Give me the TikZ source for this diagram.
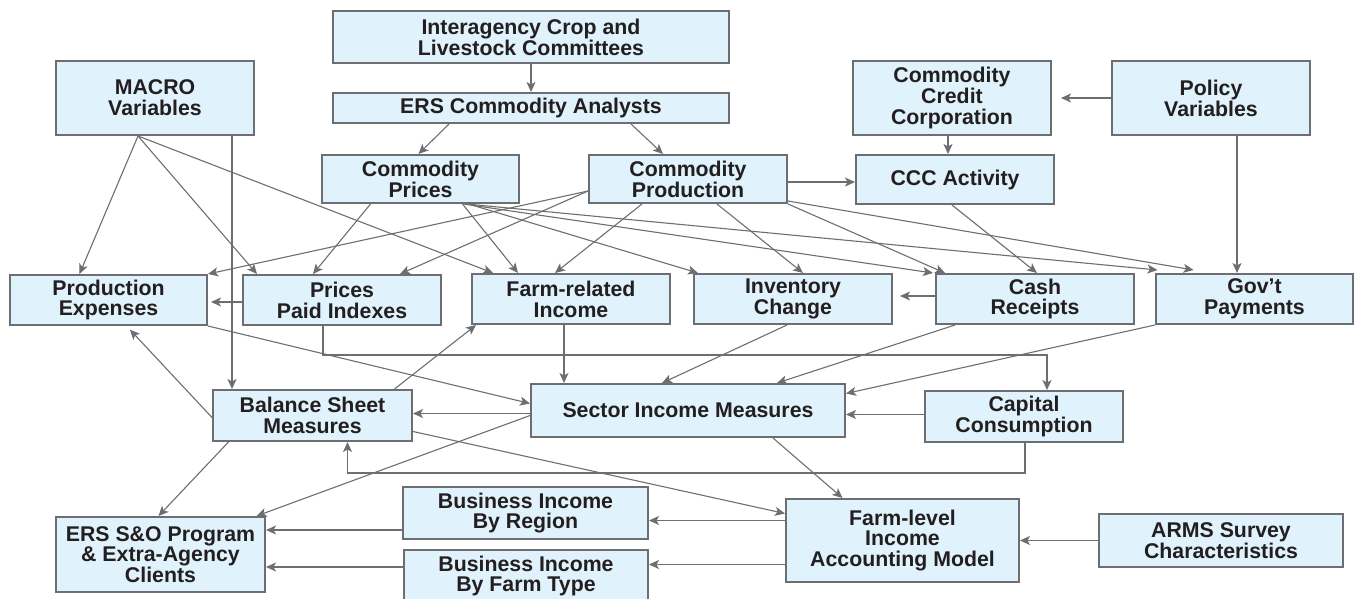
\documentclass[tikz,border=0pt]{standalone}
\usepackage{fontspec}
\setmainfont{Liberation Sans}
\usetikzlibrary{arrows.meta}

\definecolor{boxblue}{RGB}{224,242,251}
\definecolor{linegray}{RGB}{109,110,113}
\definecolor{textdark}{RGB}{35,31,32}

\begin{document}
\begin{tikzpicture}[x=1pt, y=-1pt,
        >={Stealth[length=10pt, width=9pt, inset=2.5pt]},
        box/.style={draw=linegray, fill=boxblue, line width=2pt, align=center, inner sep=0pt,
            text=textdark, font=\bfseries\fontsize{21.3}{20.8}\selectfont},
        arr/.style={->, draw=linegray, line width=1.1pt}]
        \useasboundingbox (0,0) rectangle (1358,598);

        % Top sources
        \node[box, minimum width=396pt, minimum height=52pt] (inter) at (531,37) {Interagency Crop and\\Livestock Committees};
        \node[box, minimum width=396pt, minimum height=30pt] (analysts) at (531,108) {ERS Commodity Analysts};
        \node[box, minimum width=198pt, minimum height=74pt] (macro) at (155,98) {MACRO\\Variables};
        \node[box, minimum width=198pt, minimum height=74pt] (ccc) at (952,98) {Commodity\\Credit\\Corporation};
        \node[box, minimum width=198pt, minimum height=74pt] (policy) at (1211,98) {Policy\\Variables};

        % Commodity row
        \node[box, minimum width=197pt, minimum height=48pt] (cprice) at (420.5,179) {Commodity\\Prices};
        \node[box, minimum width=198pt, minimum height=48pt] (cprod) at (688,179) {Commodity\\Production};
        \node[box, minimum width=198pt, minimum height=49pt] (cccact) at (955,179.5) {CCC Activity};

        % Income components
        \node[box, minimum width=197pt, minimum height=50pt] (prodexp) at (108.5,300) {Production\\Expenses};
        \node[box, minimum width=198pt, minimum height=50pt] (ppi) at (342,300) {Prices\\Paid Indexes};
        \node[box, minimum width=198pt, minimum height=50pt] (fri) at (571,299) {Farm-related\\Income};
        \node[box, minimum width=198pt, minimum height=50pt] (inv) at (793,299) {Inventory\\Change};
        \node[box, minimum width=198pt, minimum height=50pt] (cash) at (1035,299) {Cash\\Receipts};
        \node[box, minimum width=197pt, minimum height=50pt] (gov) at (1254.5,299) {Gov’t\\Payments};

        % Sector measures
        \node[box, minimum width=199pt, minimum height=51pt] (bsm) at (312.5,415.5) {Balance Sheet\\Measures};
        \node[box, minimum width=314pt, minimum height=53pt] (sim) at (688,410.5) {Sector Income Measures};
        \node[box, minimum width=198pt, minimum height=51pt] (capc) at (1024,416.5) {Capital\\Consumption};

        % Farm-level outputs
        \node[box, minimum width=209pt, minimum height=75pt] (ers) at (160.5,554.5) {ERS S\&O Program\\\& Extra-Agency\\Clients};
        \node[box, minimum width=245pt, minimum height=52pt] (bireg) at (525.5,513) {Business Income\\By Region};
        \node[box, minimum width=244pt, minimum height=52pt] (bityp) at (526,576) {Business Income\\By Farm Type};
        \node[box, minimum width=233pt, minimum height=83pt] (flm) at (902.5,540.5) {Farm-level\\Income\\Accounting Model};
        \node[box, minimum width=244pt, minimum height=53pt] (arms) at (1221,540.5) {ARMS Survey\\Characteristics};

        % Top arrows
        \draw[arr] (inter) -- (analysts);
        \draw[arr] ([xshift=-82pt]analysts.south) -- ([xshift=-2pt]cprice.north);
        \draw[arr] ([xshift=100pt]analysts.south) -- ([xshift=-25pt]cprod.north);
        \draw[arr] ([yshift=-3pt]cprod.east) -- ([yshift=-3pt]cprod.east -| cccact.west);
        \draw[arr] ([xshift=-4pt]ccc.south) -- ([xshift=-4pt]ccc.south |- cccact.north);
        \draw[arr, shorten >=9pt] (policy.west) -- (ccc.east);
        \draw[arr] ([xshift=26pt]policy.south) -- ([xshift=26pt]policy.south |- gov.north);

        % Macro arrows
        \draw[arr] ([xshift=-17pt]macro.south) -- ([xshift=-29pt]prodexp.north);
        \draw[arr] ([xshift=-17pt]macro.south) -- ([xshift=-85pt]ppi.north);
        \draw[arr] ([xshift=-17pt]macro.south) -- ([xshift=-78pt]fri.north);
        \draw[arr] ([xshift=77pt]macro.south) -- ([xshift=77pt]macro.south |- bsm.north);

        % Commodity prices arrows
        \draw[arr] ([xshift=-50pt]cprice.south) -- ([xshift=-29pt]ppi.north);
        \draw[arr] ([xshift=42pt]cprice.south) -- ([xshift=-53pt]fri.north);
        \draw[arr] ([xshift=48pt]cprice.south) -- ([xshift=-95pt]inv.north);
        \draw[arr] ([xshift=43pt]cprice.south) -- ([xshift=-102pt]cash.north);
        \draw[arr] ([xshift=46pt]cprice.south) -- ([xshift=-97pt, yshift=3pt]gov.north);

        % Commodity production arrows
        \draw[arr] ([yshift=-12pt]cprod.west) -- (prodexp.north east);
        \draw[arr] ([yshift=-12pt]cprod.west) -- ([xshift=58pt]ppi.north);
        \draw[arr] ([xshift=-46pt]cprod.south) -- ([xshift=-16pt]fri.north);
        \draw[arr] ([xshift=29pt]cprod.south) -- ([xshift=10pt]inv.north);
        \draw[arr] (cprod.south east) -- ([xshift=-90pt]cash.north);
        \draw[arr] ([yshift=3pt]cprod.south east) -- ([xshift=-61pt, yshift=3pt]gov.north);
        \draw[arr] ([xshift=-3pt]cccact.south) -- ([xshift=2pt]cash.north);

        % Middle row arrows
        \draw[arr, shorten >=3pt] ([yshift=-2pt]ppi.west) -- ([yshift=-2pt]ppi.west -| prodexp.east);
        \draw[arr, shorten >=7pt] ([yshift=3pt]cash.west) -- ([yshift=3pt]cash.west -| inv.east);
        \draw[arr] ([xshift=-19pt]ppi.south) -- ++(0,29) -| ([xshift=23pt]capc.north);
        \draw[arr] ([xshift=-7pt]fri.south) -- ([xshift=-7pt]fri.south |- sim.north);
        \draw[arr] ([xshift=-6pt]inv.south) -- ([xshift=-26pt]sim.north);
        \draw[arr] ([xshift=-80pt]cash.south) -- ([xshift=89pt]sim.north);
        \draw[arr] (gov.south west) -- ([yshift=17pt]sim.east);
        \draw[arr] ([yshift=2pt]capc.west) -- ([yshift=2pt]capc.west -| sim.east);
        \draw[arr] (prodexp.south east) -- ([yshift=7pt]sim.west);

        % Balance sheet arrows
        \draw[arr, shorten >=5pt] ([yshift=-2pt]bsm.west) -- ([xshift=18pt]prodexp.south);
        \draw[arr] ([xshift=82pt]bsm.north) -- ([xshift=5pt]fri.south west);
        \draw[arr] ([yshift=-3pt]sim.west) -- ([yshift=-3pt]sim.west -| bsm.east);
        \draw[arr] ([yshift=-16pt]bsm.east) -- ([yshift=27pt]flm.west);
        \draw[arr] ([xshift=1pt]capc.south) -- ++(0,30) -| ([xshift=35pt]bsm.south);

        % Bottom arrows
        \draw[arr] ([xshift=85pt]sim.south) -- ([xshift=-60pt]flm.north);
        \draw[arr] ([yshift=-5pt]sim.west) -- ([xshift=96pt]ers.north);
        \draw[arr] ([xshift=-84pt]bsm.south) -- ([xshift=-2pt]ers.north);
        \draw[arr] ([yshift=-17pt]bireg.west) -- ([yshift=-17pt]bireg.west -| ers.east);
        \draw[arr] ([yshift=9pt]bityp.west) -- ([yshift=9pt]bityp.west -| ers.east);
        \draw[arr] ([yshift=20pt]flm.west) -- ([yshift=20pt]flm.west -| bireg.east);
        \draw[arr] ([yshift=-24pt]flm.west) -- ([yshift=-24pt]flm.west -| bityp.east);
        \draw[arr] (arms.west) -- (flm.east);
\end{tikzpicture}
\end{document}
